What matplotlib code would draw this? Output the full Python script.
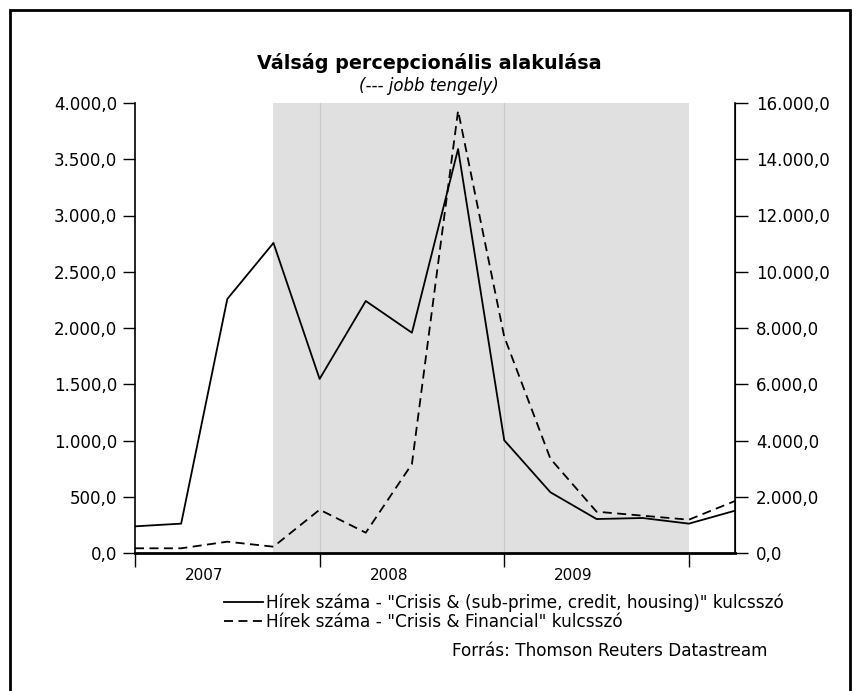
import matplotlib
matplotlib.use("Agg")
import matplotlib.pyplot as plt
from matplotlib.patches import Rectangle
from matplotlib.ticker import FuncFormatter

# quarterly values, 2007 Q1 .. 2010 Q2
quarters = list(range(14))
crisis_subprime = [237, 261, 2258, 2756, 1547, 2240, 1958, 3591, 1002, 540, 302, 311, 261, 376]
crisis_financial = [167, 167, 402, 224, 1540, 722, 3164, 15727, 7691, 3353, 1469, 1327, 1184, 1849]
year_labels = ["2007", "2008", "2009"]
year_ticks = [0, 4, 8, 12]
shade_span = (3, 12)

LABEL_SOLID = 'Hírek száma - "Crisis & (sub-prime, credit, housing)" kulcsszó'
LABEL_DASH = 'Hírek száma - "Crisis & Financial" kulcsszó'


def hu_fmt(v, pos=None):
    s = f"{v:,.1f}"
    return s.replace(",", " ").replace(".", ",").replace(" ", ".")


W, H = 858, 691
fig = plt.figure(figsize=(W / 100, H / 100), dpi=100)
ax = fig.add_axes([135 / W, 1 - 553 / H, 600 / W, 450 / H])
ax2 = ax.twinx()

# shaded crisis period + light vertical grid
ax.add_patch(Rectangle((shade_span[0], 0), shade_span[1] - shade_span[0], 4000,
                       facecolor="#e0e0e0", edgecolor="none", zorder=0))
for x in year_ticks[1:3]:
    ax.axvline(x, color="#c8c8c8", lw=0.8, zorder=0.5)

l1, = ax.plot(quarters, crisis_subprime, color="black", lw=1.3, zorder=3)
l2, = ax2.plot(quarters, crisis_financial, color="black", lw=1.3, dashes=(5, 3), zorder=3)

ax.set_xlim(0, 13)
ax.set_ylim(0, 4000)
ax2.set_ylim(0, 16000)
ax.set_yticks(range(0, 4001, 500))
ax2.set_yticks(range(0, 16001, 2000))
ax.yaxis.set_major_formatter(FuncFormatter(hu_fmt))
ax2.yaxis.set_major_formatter(FuncFormatter(hu_fmt))

ax.set_xticks(year_ticks)
ax.set_xticklabels([])
ax.tick_params(axis="x", length=10, width=1, direction="out")
for i, lab in enumerate(year_labels):
    ax.text(year_ticks[i] + 1.5, -0.033, lab, transform=ax.get_xaxis_transform(),
            ha="center", va="top", fontsize=11)

ax.tick_params(axis="y", length=9, width=1, labelsize=12, pad=4)
ax2.tick_params(axis="y", length=9, width=1, labelsize=12, pad=6)

for a in (ax, ax2):
    a.spines["top"].set_visible(False)
ax.spines["bottom"].set_linewidth(2)
ax.spines["left"].set_linewidth(1.2)
ax2.spines["right"].set_linewidth(1.2)
ax2.spines["left"].set_visible(False)
ax2.spines["bottom"].set_visible(False)
ax.set_zorder(ax2.get_zorder() - 1)
ax2.patch.set_visible(False)
ax.patch.set_visible(False)

fig.text(0.5, 1 - 63 / H, "Válság percepcionális alakulása", ha="center", va="center",
         fontsize=13.8, fontweight="bold")
fig.text(0.5, 1 - 86 / H, "(--- jobb tengely)", ha="center", va="center",
         fontsize=12, style="italic")

fig.legend([l1, l2], [LABEL_SOLID, LABEL_DASH], loc="upper left",
           bbox_to_anchor=(216 / W, 1 - 585 / H), frameon=False, fontsize=12.2,
           handlelength=2.3, handletextpad=0.15, labelspacing=0.05, borderpad=0)

fig.text(768 / W, 1 - 651 / H, "Forrás: Thomson Reuters Datastream", ha="right",
         va="center", fontsize=12.2)

# outer frame
fig.add_artist(Rectangle((10 / W, -0.05), 840 / W, 1.05 - 10 / H,
                         transform=fig.transFigure, fill=False, lw=2, edgecolor="black"))

fig.savefig("out.png", dpi=100)
